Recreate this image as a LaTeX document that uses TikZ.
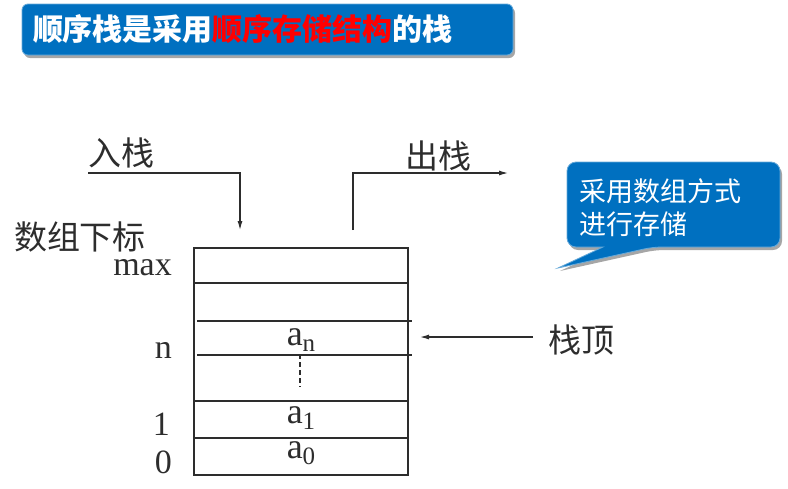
\documentclass[tikz,border=0pt]{standalone}
\usepackage{fontspec}
\setmainfont{Liberation Serif}
\newfontfamily\cjk{Noto Sans CJK SC}
\usetikzlibrary{calc, positioning}
\usetikzlibrary{arrows.meta}
\usetikzlibrary{shadows}
\definecolor{slideblue}{RGB}{0,112,192}
\definecolor{inkgray}{RGB}{45,45,45}
\newcommand{\elem}[1]{a\raisebox{-6pt}{\fontsize{25}{25}\selectfont #1}}

\begin{document}
\begin{tikzpicture}[x=1pt, y=-1pt,
    line/.style={draw=inkgray, line width=1.1pt},
    flow/.style={line, -{Latex[length=9pt, width=5pt]}},
    lbl/.style={inner sep=0pt, text=inkgray, font=\cjk\fontsize{33}{33}\selectfont},
    idx/.style={inner sep=0pt, anchor=base east, text=inkgray, font=\fontsize{34}{34}\selectfont},
    elemlbl/.style={inner sep=0pt, anchor=base, text=inkgray, font=\fontsize{36}{36}\selectfont},
    shade/.style={drop shadow={shadow xshift=2pt, shadow yshift=-3pt, opacity=0.35, fill=black}}]
    \useasboundingbox (0,0) rectangle (788,488);
    % title bar
    \node[shade, fill=slideblue, draw=slideblue!60!white, line width=0.8pt, rounded corners=6pt,
      minimum width=491pt, minimum height=51pt, text width=469pt, inner xsep=11pt, align=left,
      text=white, font=\cjk\bfseries\fontsize{30}{30}\selectfont] (title) at (267.5,29.5)
      {顺序栈是采用\textcolor{red}{顺序存储结构}的栈};
    % call-out
    \draw[shade, fill=slideblue, draw=slideblue!60!white, line width=0.8pt]
      (567,205) [rounded corners=9pt] -- (567,162) -- (780,162) -- (780,247) -- (653,247)
      [sharp corners] -- (558,268) -- (603,247) [rounded corners=9pt] -- (567,247) -- cycle;
    \node[inner sep=0pt, anchor=west, text=white, align=left,
      font=\cjk\fontsize{27}{33}\selectfont] (note) at (579,208) {采用数组方式\\进行存储};
    % push and pop
    \node[lbl] (push) at (121.5,153) {入栈};
    \node[lbl] (pop) at (438.5,156) {出栈};
    \coordinate (pushA) at (88,173);
    \coordinate (pushB) at (240,173);
    \coordinate (pushC) at (240,230);
    \draw[flow] (pushA) -- (pushB) -- (pushC);
    \coordinate (popA) at (353,230);
    \coordinate (popB) at (353,173);
    \coordinate (popC) at (508,173);
    \draw[flow] (popA) -- (popB) -- (popC);
    % array
    \def\stkL{194}
    \def\stkR{408}
    \coordinate (stkTL) at (\stkL,248);
    \coordinate (stkBR) at (\stkR,475);
    \draw[line] (stkTL) rectangle (stkBR);
    \foreach \y in {283,401,438}
      \draw[line] (\stkL,\y) -- (\stkR,\y);
    \foreach \y in {321,355}
      \draw[line] (\stkL+3,\y) -- (\stkR+4,\y);
    \node[elemlbl] (an) at (301,345) {\elem{n}};
    \node[elemlbl] (a1) at (301,423) {\elem{1}};
    \node[elemlbl] (a0) at (301,458) {\elem{0}};
    \draw[line, line width=1.8pt, dash pattern=on 5pt off 3pt] (300,354) -- (300,387);
    % indices
    \node[lbl] (subs) at (80,237) {数组下标};
    \node[idx] (imax) at (172,275) {max};
    \node[idx] (in) at (172,358) {n};
    \node[idx] (i1) at (170,435) {1};
    \node[idx] (i0) at (172,473) {0};
    % top pointer
    \node[lbl] (top) at (581.5,340) {栈顶};
    \coordinate (topTail) at (533,337);
    \coordinate (topTip) at (420,337);
    \draw[flow] (topTail) -- (topTip);
\end{tikzpicture}
\end{document}
